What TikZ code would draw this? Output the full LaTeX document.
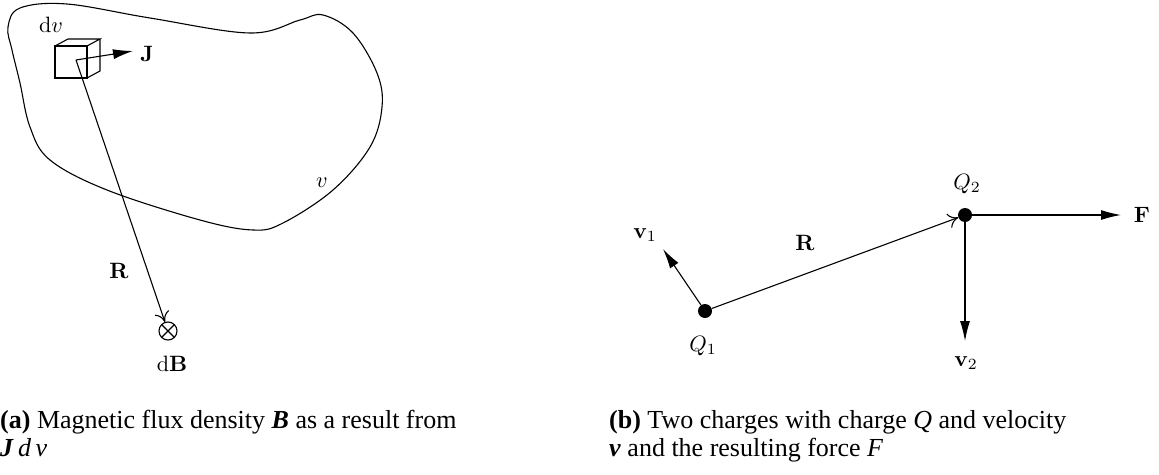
\documentclass[tikz,border=0pt]{standalone}
\usepackage[no-math]{fontspec}
\setmainfont{Liberation Serif}
\usetikzlibrary{arrows.meta}
\tikzset{
  thin line/.style={line width=1.1pt},
  filledtip/.style={-{Latex[length=20pt,width=10pt]}, thin line},
  opentip/.style={-{Computer Modern Rightarrow[length=10pt,width=15pt]}, thin line},
  lbl/.style={inner sep=0pt, scale=2.22},
  captext/.style={inner sep=0pt, anchor=base west, font=\fontsize{26}{30}\selectfont},
  dot/.style={circle, fill=black, inner sep=0pt, minimum size=14pt},
}
\begin{document}
\begin{tikzpicture}[x=1pt, y=-1pt]
\useasboundingbox (0,0) rectangle (1159,474);
% ---------------- (a) ----------------
\draw[thin line] plot[smooth cycle, tension=0.6] coordinates {
 (8,27) (20,8) (67,4) (150,18) (250,33) (300,20) (323,15) (353,33)
 (377,73) (382,107) (370,147) (333,190) (283,223) (253,230) (200,220)
 (107,190) (50,160) (30,127) (20,83) (12,50)};
% cube
\draw[thin line] (55,46) rectangle (87,78);
\draw[thin line] (55,46) -- (68,39) -- (100,39) -- (87,46);
\draw[thin line] (87,78) -- (100,71) -- (100,39);
\coordinate (c) at (76,60);
\node[lbl] (Jlab) at (147,54) {$\mathbf{J}$};
\coordinate (Jtip) at (133,51);
\draw[filledtip] (c) -- (Jtip);
\node[lbl] (dv) at (51,25) {$\mathrm{d}v$};
\node[lbl] (vv) at (322,183) {$v$};
\node[circle, draw, thin line, minimum size=18pt, inner sep=0pt,
  path picture={\draw[thin line] (path picture bounding box.north west) -- (path picture bounding box.south east)
  (path picture bounding box.north east) -- (path picture bounding box.south west);}] (ot) at (168,331) {};
\draw[opentip] (c) -- (ot);
\node[lbl] (Rlab) at (119,271) {$\mathbf{R}$};
\node[lbl] (dB) at (172,364) {$\mathrm{d}\mathbf{B}$};
% ---------------- (b) ----------------
\node[dot] (Q1) at (705,311) {};
\node[dot] (Q2) at (965,215) {};
\coordinate (v1tip) at (663,249);
\coordinate (v2tip) at (965,341);
\coordinate (Ftip) at (1121,215);
\draw[filledtip] (Q1) -- (v1tip);
\draw[filledtip] (Q2.center) -- (v2tip);
\draw[filledtip] (Q2.center) -- (Ftip);
\draw[opentip] (Q1) -- (Q2);
\node[lbl] (v1) at (645,235) {$\mathbf{v}_1$};
\node[lbl] (v2) at (966,363) {$\mathbf{v}_2$};
\node[lbl] (F) at (1142,215) {$\mathbf{F}$};
\node[lbl] (Rb) at (805,243) {$\mathbf{R}$};
\node[lbl] (Q1l) at (703,346) {$Q_1$};
\node[lbl] (Q2l) at (967,184) {$Q_2$};
% ---------------- captions ----------------
\node[captext] (capa1) at (0,428) {\textbf{(a)} Magnetic flux density \textbf{\textit{B}} as a result from};
\node[captext] (capa2) at (0,456) {\textbf{\textit{J}}\,\textit{d\,v}};
\node[captext] (capb1) at (609,428) {\textbf{(b)} Two charges with charge \textit{Q} and velocity};
\node[captext] (capb2) at (609,456) {\textbf{\textit{v}} and the resulting force \textit{F}};
\end{tikzpicture}
\end{document}
